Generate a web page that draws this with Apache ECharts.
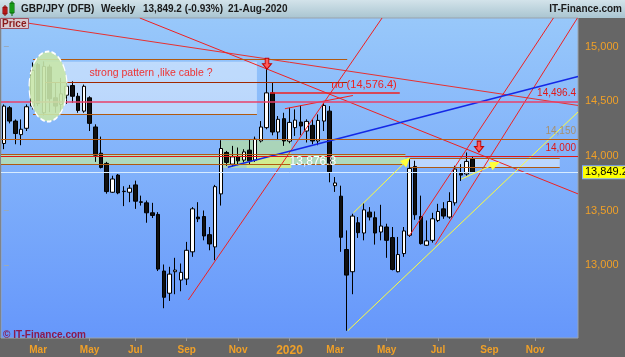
<!DOCTYPE html>
<html><head><meta charset="utf-8">
<script src="https://cdn.jsdelivr.net/npm/echarts@6/dist/echarts.min.js"></script>
<style>html,body{margin:0;padding:0;background:#666;}#c{width:625px;height:357px;}</style>
</head><body><div id="c"></div>
<script>
// ---- data (weekly candles, week index 0 = week of 2019-01-21) ----
const firstWeek = '2019-01-21';
const openP  = [14113,14440,14318,14194,14252,14455,14834,14394,14813,14531,14470,14555,14643,14545,14409,14531,14264,14024,13931,13667,13824,13673,13667,13734,13579,13570,13479,13464,12946,12743,12940,12864,12873,13122,13440,13445,13279,13167,13652,14031,13924,13994,13961,14052,13961,14136,14258,14576,14218,14340,14134,14258,14309,14227,14279,14136,14318,14409,13727,13631,13143,12940,13388,13294,13485,13434,13303,13349,13252,12940,13106,13273,13903,13445,13182,13227,13409,13515,13440,13570,13840,13834,13970];
const closeP = [14455,14318,14204,14243,14449,14782,14479,14818,14522,14455,14567,14636,14545,14415,14636,14297,14006,13894,13673,13788,13661,13676,13704,13585,13575,13479,13455,12964,12706,12918,12955,12934,13136,13515,13424,13267,13194,13718,14067,13940,13991,13954,14036,13954,14152,14264,14576,14218,14334,14136,14306,14327,14273,14315,14136,14324,14461,13854,13752,13255,12909,13449,13297,13506,13440,13294,13358,13227,12961,13097,13313,13885,13461,13197,13222,13424,13491,13449,13582,13879,13824,13949,13849.2];
const lowP   = [14061,14297,14106,14097,14227,14425,14455,14370,14400,14394,14379,14476,14485,14394,14394,14227,13945,13885,13654,13661,13649,13540,13576,13515,13545,13388,13431,12946,12606,12673,12734,12761,12818,13076,13394,13227,13136,13045,13545,13909,13904,13915,13940,13925,13945,14122,14243,14188,14152,14091,14115,14182,14188,14122,14106,14097,14227,13758,13670,13122,12400,12734,13249,13227,13409,13188,13227,13067,12952,12934,13076,13258,13415,13188,13176,13206,13394,13424,13424,13545,13770,13818,13843];
const highP  = [14470,14455,14333,14333,14470,14854,14849,14864,14834,14667,14713,14682,14682,14576,14652,14545,14288,14176,13945,13818,13834,13722,13734,13773,13636,13591,13570,13485,13006,12985,13067,13015,13213,13531,13576,13500,13349,13734,14143,14045,14091,14076,14061,14152,14176,14318,14804,14667,14364,14394,14440,14425,14461,14334,14334,14379,14485,14455,13806,13727,13318,13470,13440,13567,13531,13491,13552,13379,13349,13258,13349,13976,13955,13636,13409,13479,13561,13576,13667,13909,13924,14031,13995];

const tickWeeks  = [6,15,23,32,41,50,58,67,76,85,93];
const tickLabels = ['Mar','May','Jul','Sep','Nov','2020','Mar','May','Jul','Sep','Nov'];
const priceTicks = [13000,13500,14000,14500,15000];
const lastPrice = 13849.2;

// trend lines: [weekIndex, price] endpoints
const lineD1 = [[-0.5,15251],[100.5,14461]];
const lineD2 = [[23.8,15261],[100.5,13652]];
const lineR1 = [[32.3,12682],[66.2,15261]];
const lineChA = [[71.0,13270],[96.2,15261]];
const lineChB = [[75.5,13188],[100.4,15261]];
const lineR3 = [[49.2,14431],[61.1,14552]];
const lineBlue = [[39.2,13895],[100.5,14725]];
const lineYellow = [[60.2,12400],[100.5,14401]];
const arrowY1 = [[61.2,13479],[70.5,13955]];
const arrowY2 = [[80.1,13788],[86.0,13925]];

// horizontal levels: [price, fromIndex, toIndex]
const levelRed = [[14000,-0.5,100.5]];
const levelPink = [[14496.4,-0.5,100.5]];
const levelBrownFull = [[14150,-0.5,100.5]];
const levelNo = [[14576.4,46.6,69.3]];
const levelBrown = [[14879,5.1,60.1],[14379,5.1,44.3],[14015.4,-0.5,70.3],[13925,-0.5,70.3],[13976.3,71.1,97.3],[13894.5,71.1,97.3]];
const levelDark = [[14676,7.2,60.1]];

// zones: [fromIndex, toIndex, highPrice, lowPrice]
const zonePattern = [7.2,44.3,14861,14379];
const zoneBand = [-0.5,70.3,14015.4,13925];
const zoneRight = [71.1,97.3,13976.3,13894.5];
const zoneNov = [38.0,50.3,14143,13888];
const zoneNovLow = [42.5,50.3,13990,13888];
const ellipseAt = [7.74,14634];
const arrowsDown = [[46.06,14843],[83.17,14084]];
const noteAt = [54.1,13943];

const fmt = v => v.toLocaleString('en-US');
const candles = openP.map((o,i)=>[i,o,closeP[i],lowP[i],highP[i]]);

function seg(a, color, w){ return {type:'line', data:a, symbol:'none', silent:true, z:4, clip:true, animation:false,
  lineStyle:{color:color,width:w||1}}; }
function hl(arr, color, w, label){ return arr.map(l=>[
  {coord:[l[1],l[0]], lineStyle:{color:color,width:w||1,type:'solid'}, label:label||{show:false}},
  {coord:[l[2],l[0]]}]); }
function zone(z, style, label){ return [{coord:[z[0],z[2]], itemStyle:style, label:label||{show:false}},{coord:[z[1],z[3]]}]; }

const orange = '#f0a028';
const yellow = '#ffff3a';
const hdr = {fontSize:10,fontWeight:'bold',color:'#1a1a1a',fontFamily:'Liberation Sans'};
const option = {
  animation:false,
  backgroundColor:'#666666',
  grid:{left:1,right:47,top:18,bottom:17,show:true,borderColor:'#9aa3ad',borderWidth:1,
    backgroundColor:{type:'linear',x:0,y:0,x2:0,y2:1,colorStops:[{offset:0,color:'#98c8fa'},{offset:1,color:'#6697fb'}]}},
  title:[
    {text:'GBP/JPY (DFB)',left:21,top:4,padding:0,textStyle:hdr},
    {text:'Weekly',left:101,top:4,padding:0,textStyle:hdr},
    {text:'13,849.2 (-0.93%)',left:143,top:4,padding:0,textStyle:hdr},
    {text:'21-Aug-2020',left:228,top:4,padding:0,textStyle:hdr},
    {text:'IT-Finance.com',right:3,top:4,padding:0,textStyle:hdr},
    {text:'Price',left:0,top:18,padding:[1,2,0,2],backgroundColor:'#d9c9cf',borderColor:'#a05060',borderWidth:1,
      textStyle:{fontSize:10,color:'#8b1a1a',fontFamily:'Liberation Sans'}},
    {text:'© IT-Finance.com',left:3,top:330,padding:0,textStyle:{fontSize:10,color:'#8b1a4a',fontFamily:'Liberation Sans'}}
  ],
  graphic:[
    {type:'rect',shape:{x:0,y:0,width:625,height:18},z:-1,
     style:{fill:{type:'linear',x:0,y:0,x2:0,y2:1,colorStops:[{offset:0,color:'#d3e3ea'},{offset:1,color:'#a9c5d1'}]}}},
    {type:'rect',shape:{x:3,y:7,width:4,height:7},style:{fill:'#e03030',stroke:'#800',lineWidth:1}},
    {type:'line',shape:{x1:5,y1:5,x2:5,y2:16},style:{stroke:'#800'}},
    {type:'rect',shape:{x:10,y:3,width:4,height:10},style:{fill:'#30d030',stroke:'#060',lineWidth:1}},
    {type:'line',shape:{x1:12,y1:1,x2:12,y2:16},style:{stroke:'#060'}}
  ],
  xAxis:{type:'value',min:-0.5,max:100.5,splitLine:{show:false},axisLine:{show:false},
    axisTick:{show:true,customValues:tickWeeks,length:3,lineStyle:{color:'#999'}},
    axisLabel:{customValues:tickWeeks,margin:7,color:orange,fontSize:10,fontWeight:'bold',fontFamily:'Liberation Sans',
      formatter:v=>{const k=tickWeeks.indexOf(Math.round(v)); const t=k>=0?tickLabels[k]:''; return t==='2020'?'{y|2020}':t;},
      rich:{y:{fontSize:12,fontWeight:'bold',color:orange,fontFamily:'Liberation Sans'}}}},
  yAxis:{type:'value',position:'right',min:12333.6,max:15260.9,scale:true,splitLine:{show:false},axisLine:{show:false},
    axisTick:{show:true,customValues:priceTicks,length:5,lineStyle:{color:'#9ab'}},
    axisLabel:{customValues:priceTicks,margin:7,color:orange,fontSize:11,fontFamily:'Liberation Sans',formatter:v=>fmt(v)}},
  series:[
    {type:'line',data:[],z:1,silent:true,
      markArea:{silent:true,data:[
        zone(zonePattern,{color:'rgba(255,255,255,0.42)'},{show:true,position:'insideTop',distance:6,formatter:'strong pattern ,like cable ?',color:'#ee3333',fontSize:10.5,fontFamily:'Liberation Sans'}),
        zone(zoneBand,{color:'rgba(185,228,175,0.8)'}),
        zone(zoneRight,{color:'rgba(225,238,255,0.6)'}),
        zone(zoneNov,{color:'rgba(185,225,160,0.72)'}),
        zone(zoneNovLow,{color:'rgba(225,245,130,0.65)'})
      ]},
      markPoint:{silent:true,data:[{coord:ellipseAt,symbol:'circle',symbolSize:[38,70],
        itemStyle:{color:'rgba(200,230,170,0.9)',borderColor:'#ffffff',borderWidth:1.5,borderType:'dashed'},label:{show:false}}]}
    },
    {type:'line',data:[],z:2,silent:true,
      markLine:{silent:true,symbol:'none',animation:false,data:[
        ...hl(levelBrownFull,'#b85c12',1,{show:true,position:'insideEndTop',formatter:'14,150',color:'#a89070',fontSize:10,distance:[2,3]}),
        ...hl(levelRed,'#e01818',1,{show:true,position:'insideEndTop',formatter:'14,000',color:'#e01818',fontSize:10,distance:[2,3]}),
        ...hl(levelPink,'#e84068',1.5,{show:true,position:'insideEndTop',formatter:'14,496.4',color:'#e01818',fontSize:10,distance:[2,3]}),
        ...hl(levelBrown,'#b05a10',1),
        ...hl(levelDark,'#a02800',1),
        ...hl([[lastPrice,-0.5,100.5]],'#d8ecff',1,{show:true,position:'end',distance:5,formatter:'13,849.2',color:'#000',fontSize:11,
           backgroundColor:'#ffff00',borderColor:'#7fa8ff',borderWidth:1,padding:[1,2,0,2],fontFamily:'Liberation Sans'})
      ]}
    },
    {type:'candlestick',data:candles,z:3,barWidth:4,silent:true,
      itemStyle:{color:'#ffffff',color0:'#111111',borderColor:'#000000',borderColor0:'#000000',borderWidth:1}},
    seg(lineD1,'#e83030'),
    seg(lineD2,'#f02020'),
    seg(lineR1,'#f02020'),
    seg(lineChA,'#f02020'),
    seg(lineChB,'#f02020'),
    seg(lineR3,'#f02020'),
    seg(lineBlue,'#1428e6',1.5),
    seg(lineYellow,yellow),
    {type:'line',data:[],z:5,silent:true,
      markLine:{silent:true,animation:false,symbol:'none',data:[
        ...hl(levelNo,'#f02020',1.5,{show:true,position:'insideEndTop',formatter:'no (14,576.4)',color:'#ee2020',fontSize:11,distance:[3,2],fontFamily:'Liberation Sans'})
      ]}
    },
    {type:'line',data:[],z:5,silent:true,
      markLine:{silent:true,animation:false,symbol:['none','triangle'],symbolSize:[9,10],data:[
        [{coord:arrowY1[0],lineStyle:{color:yellow,width:1,type:'solid'},itemStyle:{color:yellow},label:{show:false}},{coord:arrowY1[1]}],
        [{coord:arrowY2[0],lineStyle:{color:yellow,width:1,type:'solid'},itemStyle:{color:yellow},label:{show:false}},{coord:arrowY2[1]}]
      ]},
      markPoint:{silent:true,data:[
        ...arrowsDown.map(a=>({coord:a,symbol:'path://M3,0 L7,0 L7,6 L10,6 L5,12 L0,6 L3,6 Z',symbolSize:[9,11],
          itemStyle:{color:'#ff5a5a',borderColor:'#c00000',borderWidth:1},label:{show:false}})),
        {coord:noteAt,symbol:'rect',symbolSize:[1,1],itemStyle:{color:'rgba(0,0,0,0)'},
          label:{show:true,position:'inside',formatter:'13,876.8',color:'#ffffff',fontSize:12,fontFamily:'Liberation Sans'}}
      ]}
    }
  ]
};
const chart = echarts.init(document.getElementById('c'));
chart.setOption(option);
</script></body></html>
